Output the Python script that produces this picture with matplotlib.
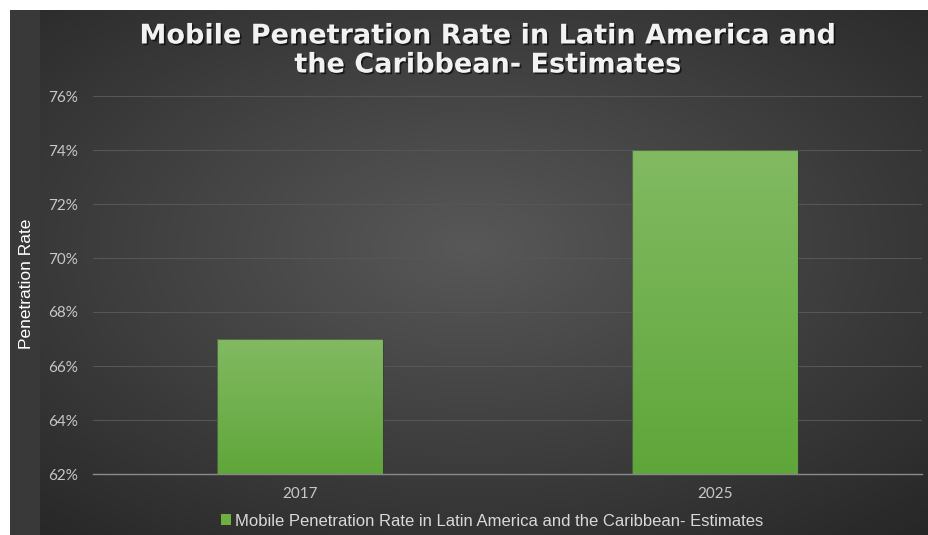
import numpy as np
import matplotlib
matplotlib.use("Agg")
import matplotlib.pyplot as plt
from matplotlib.patches import Rectangle
import matplotlib.patheffects as pe
from matplotlib.ticker import PercentFormatter

categories = ["2017", "2025"]
values = [0.67, 0.74]
series_name = "Mobile Penetration Rate in Latin America and the Caribbean- Estimates"
title = "Mobile Penetration Rate in Latin America and\nthe Caribbean- Estimates"
y_label = "Penetration Rate"
y_ticks = [0.62, 0.64, 0.66, 0.68, 0.70, 0.72, 0.74, 0.76]

W, H = 929, 535
fig = plt.figure(figsize=(W / 100, H / 100), dpi=100)
fig.patch.set_facecolor("white")

# background panel with radial gradient
bg = fig.add_axes([10 / W, 0, (W - 10) / W, (H - 10) / H])
bg.set_axis_off()
nx, ny = 400, 240
xx, yy = np.meshgrid(np.linspace(0, 1, nx), np.linspace(0, 1, ny))
cx, cy = 0.5, 0.55
r = np.sqrt(((xx - cx) / 0.75) ** 2 + ((yy - cy) / 0.75) ** 2)
r = np.clip(r, 0, 1)
c_in = np.array([0x58, 0x58, 0x58]) / 255
c_out = np.array([0x26, 0x26, 0x26]) / 255
img = c_in[None, None, :] * (1 - r[..., None]) + c_out[None, None, :] * r[..., None]
bg.imshow(img, extent=[0, 1, 0, 1], aspect="auto", origin="lower", zorder=0)
bg.set_xlim(0, 1)
bg.set_ylim(0, 1)
bg.add_patch(Rectangle((0, 0), 30 / (W - 10), 1, transform=bg.transAxes,
                       facecolor="#393939", edgecolor="none", zorder=1))

# main axes
left, right, top, bottom = 93, 922, 96, 474
ax = fig.add_axes([left / W, 1 - bottom / H, (right - left) / W, (bottom - top) / H])
ax.patch.set_alpha(0)
x = np.arange(len(categories))
bars = ax.bar(x, [v - 0.62 for v in values], bottom=0.62, width=0.4,
              color="#6cb040", edgecolor="none", zorder=3, label=series_name)
grad = np.linspace(0, 1, 256)[:, None]
top_c = np.array([0x82, 0xba, 0x62]) / 255
bot_c = np.array([0x5f, 0xa6, 0x3a]) / 255
gimg = bot_c[None, None, :] * (1 - grad[..., None]) + top_c[None, None, :] * grad[..., None]
for b in bars:
    x0, y0 = b.get_x(), b.get_y()
    im = ax.imshow(gimg, extent=[x0, x0 + b.get_width(), y0, y0 + b.get_height()],
                   aspect="auto", origin="lower", zorder=4)
    im.set_clip_path(b)
    ax.add_patch(Rectangle((x0, y0), b.get_width(), b.get_height(), facecolor="none",
                           edgecolor="#3a3a3a", linewidth=0.8, alpha=0.6, zorder=5))

ax.set_xlim(-0.5, 1.5)
ax.set_ylim(0.62, 0.76)
ax.set_yticks(y_ticks)
ax.yaxis.set_major_formatter(PercentFormatter(1.0, decimals=0))
ax.set_xticks(x)
ax.set_xticklabels(categories)
ax.grid(axis="y", color="#565656", linewidth=0.8, zorder=1)
for s in ["top", "right", "left"]:
    ax.spines[s].set_visible(False)
ax.spines["bottom"].set_color("#8a8a8a")
ax.spines["bottom"].set_linewidth(1.0)
ax.spines["bottom"].set_zorder(6)
ax.tick_params(axis="both", length=0, colors="#c8c8c8", labelsize=11)
ax.tick_params(axis="y", pad=11)
ax.tick_params(axis="x", pad=9)
for t in ax.get_xticklabels() + ax.get_yticklabels():
    t.set_fontfamily("Lato")

fig.text(27 / W, 1 - 284 / H, y_label, rotation=90, ha="center", va="center",
         color="white", fontsize=12.5, family="Liberation Sans")

fig.text(488 / W, 1 - 51 / H, title, ha="center", va="center", color="#f2f2f2",
         fontsize=19.5, fontweight="bold", family="DejaVu Sans", linespacing=1.15,
         path_effects=[pe.withSimplePatchShadow(offset=(1.2, -1.2), shadow_rgbFace="black", alpha=0.6)])

leg = fig.legend(handles=[bars], labels=[series_name], loc="center",
                 bbox_to_anchor=(492 / W, 1 - 521 / H), frameon=False,
                 handlelength=0.6, handleheight=0.6, handletextpad=0.25,
                 prop={"family": "Liberation Sans", "size": 12})
for t in leg.get_texts():
    t.set_color("#d9d9d9")

fig.savefig("out.png", dpi=100, facecolor=fig.get_facecolor())
